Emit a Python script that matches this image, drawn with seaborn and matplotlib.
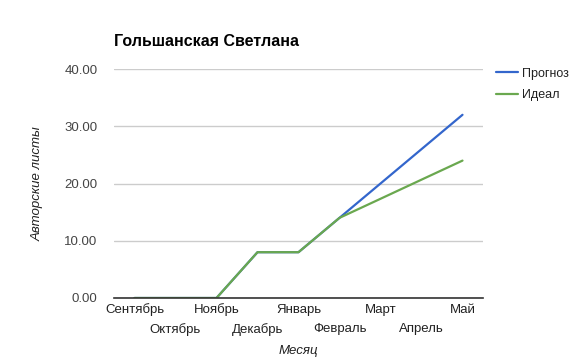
import matplotlib
matplotlib.use("Agg")
import matplotlib.pyplot as plt
import seaborn as sns
import pandas as pd

months = ["Сентябрь", "Октябрь", "Ноябрь", "Декабрь", "Январь",
          "Февраль", "Март", "Апрель", "Май"]
prognoz = [0, 0, 0, 8, 8, 14, 20, 26, 32]
ideal = [0, 0, 0, 8, 8, 14, 17.33, 20.67, 24]
series_names = ["Прогноз", "Идеал"]
colors = ["#3366cc", "#6aa84f"]
y_ticks = [0, 10, 20, 30, 40]

sns.set_theme(style="white")
plt.rcParams['font.family'] = ['Liberation Sans', 'DejaVu Sans']

df = pd.DataFrame({
    "pos": list(range(len(months))) * 2,
    "value": prognoz + ideal,
    "series": [series_names[0]] * len(months) + [series_names[1]] * len(months),
})

fig = plt.figure(figsize=(5.74, 3.61), dpi=100)
ax = fig.add_axes([114/574, 1 - 298/361, (483-114)/574, (298-69)/361])

for name, col in zip(series_names, colors):
    sub = df[df["series"] == name]
    sns.lineplot(data=sub, x="pos", y="value", ax=ax, color=col,
                 linewidth=1.6, label=name, sort=False, zorder=3)

ax.set_xlim(-0.5, len(months) - 0.5)
ax.set_ylim(0, 40)
ax.set_yticks(y_ticks)
ax.set_yticklabels([f"{v:.2f}" for v in y_ticks], fontsize=9.5, color="#444444")
ax.yaxis.grid(True, color="#cccccc", linewidth=1)
ax.xaxis.grid(False)
for s in ["top", "right", "left"]:
    ax.spines[s].set_visible(False)
ax.spines["bottom"].set_color("#333333")
ax.spines["bottom"].set_linewidth(1.2)
ax.spines["bottom"].set_zorder(4)
ax.tick_params(axis="y", length=0, pad=12)

even = list(range(0, len(months), 2))
odd = list(range(1, len(months), 2))
ax.set_xticks(even)
ax.set_xticklabels([months[i] for i in even], fontsize=9.5, color="#222222")
ax.set_xticks(odd, minor=True)
ax.set_xticklabels([months[i] for i in odd], minor=True, fontsize=9.5, color="#222222")
ax.tick_params(axis="x", which="major", length=0, pad=4)
ax.tick_params(axis="x", which="minor", length=0, pad=18)

ax.set_xlabel("Месяц", fontsize=9.5, style="italic", color="#222222")
ax.set_ylabel("Авторские листы", fontsize=9.5, style="italic", color="#222222")
ax.yaxis.set_label_coords(-0.19, 0.5)
ax.xaxis.set_label_coords(0.5, -0.205)

fig.text(114/574, 1 - 42/361, "Гольшанская Светлана", fontsize=11.5, fontweight="bold",
         color="#000000", va="center", ha="left")

leg = ax.legend(loc="upper left", bbox_to_anchor=(1.035, 1.005), frameon=False,
                fontsize=9, handlelength=1.75, handletextpad=0.35, labelspacing=0.75,
                borderaxespad=0, borderpad=0)
for t in leg.get_texts():
    t.set_color("#222222")

fig.savefig("out.png", dpi=100)
